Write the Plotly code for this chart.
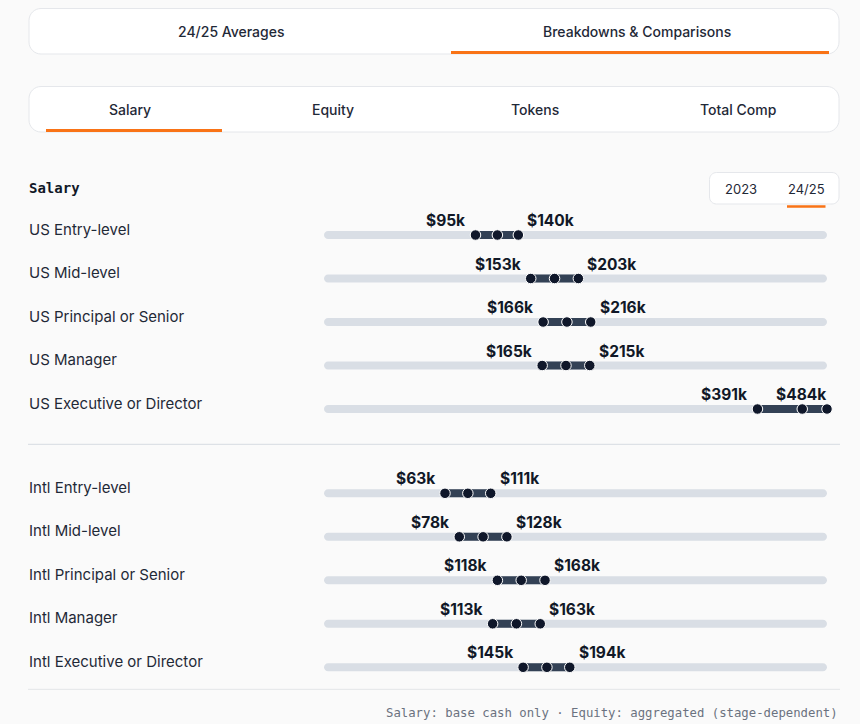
import plotly.graph_objects as go

# ---------------- data (thousand USD, 24/25 salary) ----------------
US_LEVELS = ["US Entry-level", "US Mid-level", "US Principal or Senior",
             "US Manager", "US Executive or Director"]
US_LOW = [95, 153, 166, 165, 391]
US_MID = [118, 178, 191, 190, 438]
US_HIGH = [140, 203, 216, 215, 484]

INTL_LEVELS = ["Intl Entry-level", "Intl Mid-level", "Intl Principal or Senior",
               "Intl Manager", "Intl Executive or Director"]
INTL_LOW = [63, 78, 118, 113, 145]
INTL_MID = [87, 103, 143, 138, 170]
INTL_HIGH = [111, 128, 168, 163, 194]

TOP_TABS = ["24/25 Averages", "Breakdowns & Comparisons"]
SUB_TABS = ["Salary", "Equity", "Tokens", "Total Comp"]
YEARS = ["2023", "24/25"]
SECTION = "Salary"
FOOTNOTE = "Salary: base cash only \u00b7 Equity: aggregated (stage-dependent)"

AXIS_MIN, AXIS_MAX = -64, 464   # scale of the range tracks (k$)

# ---------------- styling / layout ----------------
W, H = 860, 724
BG = "#fafafa"
BORDER = "#e5e7eb"
ORANGE = "#f97316"
TEXT = "#1f2937"
TRACK = "#d9dee5"
SEG = "#334155"
DOT = "#0f172a"
SANS = "Inter, Noto Sans, sans-serif"
MONO = "DejaVu Sans Mono, Liberation Mono, monospace"

TRACK_X0, TRACK_X1 = 324, 827
PPU = (TRACK_X1 - TRACK_X0) / (AXIS_MAX - AXIS_MIN)
US_Y0, INTL_Y0, ROW_STEP = 235.0, 493.3, 43.5


def px(x):
    return x / W


def py(y):
    return 1 - y / H


def rrect_paper(x0, y0, x1, y1, r):
    k = 0.5523 * r
    def P(x, y):
        return f"{px(x):.5f},{py(y):.5f}"
    path = (f"M {P(x0 + r, y0)} L {P(x1 - r, y0)} "
            f"C {P(x1 - r + k, y0)} {P(x1, y0 + r - k)} {P(x1, y0 + r)} "
            f"L {P(x1, y1 - r)} "
            f"C {P(x1, y1 - r + k)} {P(x1 - r + k, y1)} {P(x1 - r, y1)} "
            f"L {P(x0 + r, y1)} "
            f"C {P(x0 + r - k, y1)} {P(x0, y1 - r + k)} {P(x0, y1 - r)} "
            f"L {P(x0, y0 + r)} "
            f"C {P(x0, y0 + r - k)} {P(x0 + r - k, y0)} {P(x0 + r, y0)} Z")
    return path


def pill_data(v0, v1, yc, half):
    # rounded track in data units (x: k$, y: pixel rows)
    rx = half / PPU
    kx, ky = 0.5523 * rx, 0.5523 * half
    a, b = v0 + rx, v1 - rx
    return (f"M {a},{yc - half} L {b},{yc - half} "
            f"C {b + kx},{yc - half} {v1},{yc - ky} {v1},{yc} "
            f"C {v1},{yc + ky} {b + kx},{yc + half} {b},{yc + half} "
            f"L {a},{yc + half} "
            f"C {a - kx},{yc + half} {v0},{yc + ky} {v0},{yc} "
            f"C {v0},{yc - ky} {a - kx},{yc - half} {a},{yc - half} Z")


fig = go.Figure()
shapes = []
annotations = []

# top tab bars
shapes.append(dict(type="path", xref="paper", yref="paper",
                   path=rrect_paper(29, 8.5, 839, 54, 12),
                   fillcolor="white", line=dict(color=BORDER, width=1), layer="below"))
for i, t in enumerate(TOP_TABS):
    cx = 29 + (839 - 29) * (i + 0.5) / len(TOP_TABS)
    annotations.append(dict(text=t, x=px(cx), y=py(31.5), xref="paper", yref="paper",
                            showarrow=False, font=dict(family=SANS, size=14, color=TEXT, weight=500),
                            xanchor="center", yanchor="middle"))
shapes.append(dict(type="line", xref="paper", yref="paper", x0=px(451), x1=px(829),
                   y0=py(52.5), y1=py(52.5), line=dict(color=ORANGE, width=3)))

shapes.append(dict(type="path", xref="paper", yref="paper",
                   path=rrect_paper(29, 86.5, 839, 132, 12),
                   fillcolor="white", line=dict(color=BORDER, width=1), layer="below"))
for i, t in enumerate(SUB_TABS):
    cx = 29 + (839 - 29) * (i + 0.5) / len(SUB_TABS)
    annotations.append(dict(text=t, x=px(cx), y=py(109.5), xref="paper", yref="paper",
                            showarrow=False, font=dict(family=SANS, size=14, color=TEXT, weight=500),
                            xanchor="center", yanchor="middle"))
shapes.append(dict(type="line", xref="paper", yref="paper", x0=px(46), x1=px(222),
                   y0=py(130.5), y1=py(130.5), line=dict(color=ORANGE, width=3)))

# section header + year toggle
annotations.append(dict(text=f"<b>{SECTION}</b>", x=px(26.5), y=py(188), xref="paper", yref="paper",
                        showarrow=False, font=dict(family=MONO, size=14, color="#111827"),
                        xanchor="left", yanchor="middle"))
shapes.append(dict(type="path", xref="paper", yref="paper",
                   path=rrect_paper(709.5, 172.5, 839, 204, 7),
                   fillcolor="white", line=dict(color=BORDER, width=1), layer="below"))
for t, cx in zip(YEARS, [741, 806]):
    annotations.append(dict(text=t, x=px(cx), y=py(188.5), xref="paper", yref="paper",
                            showarrow=False, font=dict(family=SANS, size=13, color=TEXT),
                            xanchor="center", yanchor="middle"))
shapes.append(dict(type="line", xref="paper", yref="paper", x0=px(787), x1=px(825.5),
                   y0=py(206.5), y1=py(206.5), line=dict(color=ORANGE, width=2.5)))

# dividers
shapes.append(dict(type="line", xref="paper", yref="paper", x0=px(28), x1=px(840),
                   y0=py(444.3), y1=py(444.3), line=dict(color="#d6dbe2", width=1)))
shapes.append(dict(type="line", xref="paper", yref="paper", x0=px(28), x1=px(840),
                   y0=py(689.3), y1=py(689.3), line=dict(color="#e3e5e8", width=1)))
annotations.append(dict(text=FOOTNOTE, x=px(840), y=py(712.5), xref="paper", yref="paper",
                        showarrow=False, font=dict(family=MONO, size=12.3, color="#6b7280"),
                        xanchor="right", yanchor="middle"))

VAL_FONT = dict(family=SANS, size=15.5, color="#111827")


def add_group(levels, lows, mids, highs, y0):
    for i, (name, lo, md, hi) in enumerate(zip(levels, lows, mids, highs)):
        ty = y0 + i * ROW_STEP
        shapes.append(dict(type="path", xref="x", yref="y", path=pill_data(AXIS_MIN, AXIS_MAX, ty, 4),
                           fillcolor=TRACK, line=dict(width=0), layer="below"))
        hi_c = min(hi, AXIS_MAX)
        fig.add_trace(go.Scatter(x=[lo, hi_c], y=[ty, ty], mode="lines",
                                 line=dict(color=SEG, width=8), hoverinfo="skip",
                                 showlegend=False, cliponaxis=False))
        fig.add_trace(go.Scatter(x=[lo, md, hi_c], y=[ty, ty, ty], mode="markers",
                                 marker=dict(color=DOT, size=10.5, line=dict(color="white", width=1)),
                                 showlegend=False, cliponaxis=False,
                                 hovertemplate=name + ": %{x}k<extra></extra>"))
        annotations.append(dict(text=name, x=px(26.5), y=ty - 6, xref="paper", yref="y",
                                showarrow=False, font=dict(family=SANS, size=15, color=TEXT),
                                xanchor="left", yanchor="middle"))
        annotations.append(dict(text=f"<b>${lo}k</b>", x=lo, y=ty - 14.5, xref="x", yref="y",
                                showarrow=False, font=VAL_FONT,
                                xanchor="right", yanchor="middle", xshift=-8))
        if hi > AXIS_MAX:
            annotations.append(dict(text=f"<b>${hi}k</b>", x=hi_c, y=ty - 14.5, xref="x", yref="y",
                                    showarrow=False, font=VAL_FONT,
                                    xanchor="right", yanchor="middle", xshift=1))
        else:
            annotations.append(dict(text=f"<b>${hi}k</b>", x=hi_c, y=ty - 14.5, xref="x", yref="y",
                                    showarrow=False, font=VAL_FONT,
                                    xanchor="left", yanchor="middle", xshift=7))


add_group(US_LEVELS, US_LOW, US_MID, US_HIGH, US_Y0)
add_group(INTL_LEVELS, INTL_LOW, INTL_MID, INTL_HIGH, INTL_Y0)

fig.update_layout(
    width=W, height=H,
    margin=dict(l=0, r=0, t=0, b=0),
    paper_bgcolor=BG, plot_bgcolor="rgba(0,0,0,0)",
    xaxis=dict(domain=[TRACK_X0 / W, TRACK_X1 / W], range=[AXIS_MIN, AXIS_MAX],
               visible=False, fixedrange=True),
    yaxis=dict(domain=[0, 1], range=[H, 0], visible=False, fixedrange=True),
    shapes=shapes, annotations=annotations,
    showlegend=False,
)

fig.write_html(
    "out.html",
    config={"displayModeBar": False},
    post_script="document.body.style.margin='0';document.body.style.overflow='hidden';"
                "document.body.style.background='#fafafa';",
)
